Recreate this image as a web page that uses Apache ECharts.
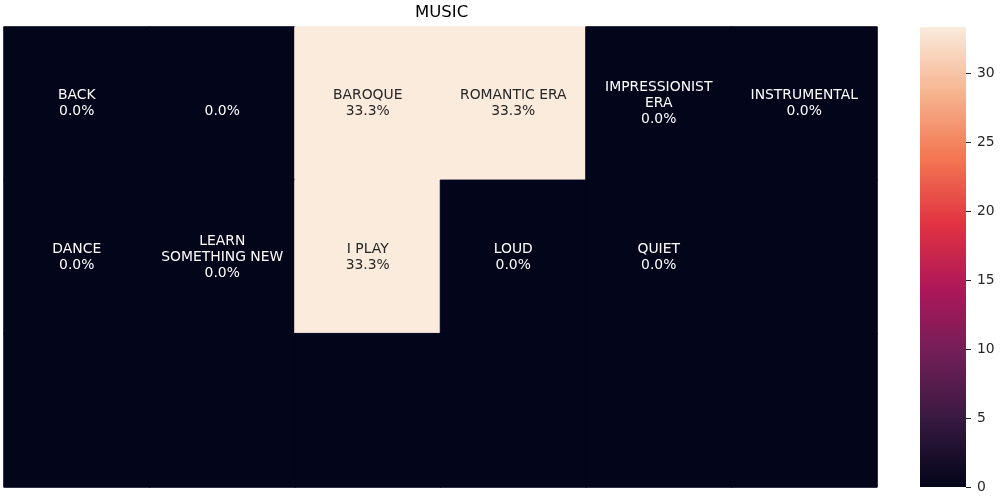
<!DOCTYPE html>
<html><head><meta charset="utf-8">
<script src="https://cdn.jsdelivr.net/npm/echarts@6/dist/echarts.min.js"></script>
<style>html,body{margin:0;padding:0;background:#fff}#c{width:1000px;height:500px}</style>
</head><body><div id="c"></div>
<script>
const title = 'MUSIC';
const columns = ['c0','c1','c2','c3','c4','c5'];
const rows = ['r0','r1','r2'];
// values in percent, row by row
const row0Values = [0, 0, 33.33, 33.33, 0, 0];
const row1Values = [0, 0, 33.33, 0, 0, 0];
const row2Values = [0, 0, 0, 0, 0, 0];
// annotation names (null = no annotation)
const row0Names = ['BACK', '', 'BAROQUE', 'ROMANTIC ERA', 'IMPRESSIONIST\nERA', 'INSTRUMENTAL'];
const row1Names = ['DANCE', 'LEARN\nSOMETHING NEW', 'I PLAY', 'LOUD', 'QUIET', null];
const row2Names = [null, null, null, null, null, null];
const colorbarTicks = [0, 5, 10, 15, 20, 25, 30];
const vmin = 0, vmax = 33.33;
const rocket = ['#03051a', '#35193e', '#701f57', '#ad1759', '#e13342', '#f37651', '#f6b48f', '#faebdd'];

const allValues = [row0Values, row1Values, row2Values];
const allNames = [row0Names, row1Names, row2Names];
const data = [];
allValues.forEach((vals, r) => {
  vals.forEach((v, c) => {
    const nm = allNames[r][c];
    let txt = '';
    if (nm !== null) txt = nm + '\n' + v.toFixed(1) + '%';
    const light = v > vmax / 2;
    data.push({
      value: [c, r, v],
      itemStyle: { borderWidth: 1, borderColor: light ? rocket[rocket.length - 1] : rocket[0] },
      label: { show: txt !== '', formatter: txt, color: light ? '#262626' : '#ffffff' }
    });
  });
});

const chart = echarts.init(document.getElementById('c'), null, { renderer: 'canvas' });
chart.setOption({
  animation: false,
  backgroundColor: '#ffffff',
  textStyle: { fontFamily: 'DejaVu Sans' },
  title: {
    text: title, left: 415, top: 4, padding: 0,
    textStyle: { fontFamily: 'DejaVu Sans', fontWeight: 'normal', fontSize: 16.5, color: '#000' }
  },
  grid: [
    { left: 4, top: 27, width: 873, height: 460 },
    { left: 920, top: 27, width: 46, height: 460 }
  ],
  xAxis: [
    { type: 'category', data: columns, gridIndex: 0, show: false },
    { type: 'category', data: ['cb'], gridIndex: 1, show: false }
  ],
  yAxis: [
    { type: 'category', data: rows, gridIndex: 0, inverse: true, show: false },
    {
      type: 'value', gridIndex: 1, min: vmin, max: vmax, interval: 5, position: 'right',
      splitLine: { show: false },
      axisLine: { show: false },
      axisTick: { show: true, length: 5, customValues: colorbarTicks, lineStyle: { color: '#262626' } },
      axisLabel: {
        color: '#262626', fontSize: 13.9, fontFamily: 'DejaVu Sans', margin: 11,
        customValues: colorbarTicks,
        formatter: v => String(v)
      }
    }
  ],
  visualMap: {
    show: false, min: vmin, max: vmax, seriesIndex: 0, dimension: 2,
    inRange: { color: rocket }
  },
  series: [
    {
      type: 'heatmap', xAxisIndex: 0, yAxisIndex: 0, data: data,
      label: { show: true, fontSize: 13.9, lineHeight: 16, fontFamily: 'DejaVu Sans' },
      emphasis: { disabled: true }
    },
    {
      type: 'bar', xAxisIndex: 1, yAxisIndex: 1, data: [vmax], barWidth: '100%',
      silent: true,
      itemStyle: {
        color: new echarts.graphic.LinearGradient(0, 1, 0, 0,
          rocket.map((c, i) => ({ offset: i / (rocket.length - 1), color: c })))
      }
    }
  ]
});
</script></body></html>
